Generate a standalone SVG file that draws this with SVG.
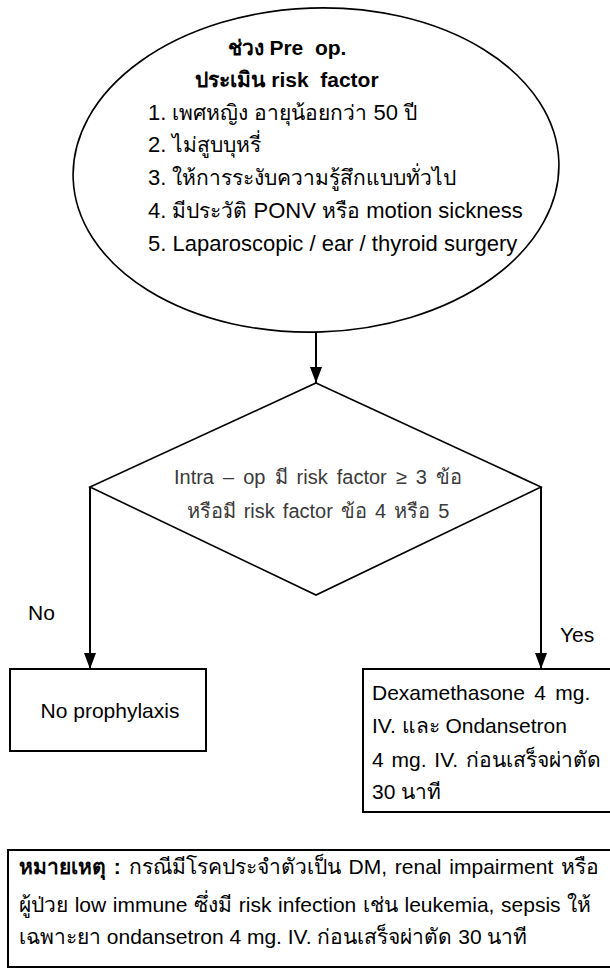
<svg xmlns="http://www.w3.org/2000/svg" width="610" height="969" viewBox="0 0 610 969">
<defs>
<marker id="arr" viewBox="0 0 16 12" refX="16" refY="6" markerWidth="16" markerHeight="12" markerUnits="userSpaceOnUse" orient="auto">
<path d="M0,0 L16,6 L0,12 Z" fill="#000"/>
</marker>
</defs>
<style>
.t{font-family:"Liberation Sans","Noto Sans",sans-serif;font-size:21px;fill:#000}
.i{font-size:22px}
.th{font-size:21px}
.b{font-weight:bold}
.d{font-family:"Liberation Sans","Noto Sans",sans-serif;font-size:20px;fill:#3a3a3a}
.s{fill:#fff;stroke:#000;stroke-width:1.6}
.r{fill:#fff;stroke:#000;stroke-width:2}
.c{fill:none;stroke:#000;stroke-width:2}
</style>
<rect width="610" height="969" fill="#fff"/>
<g id="connectors">
<line class="c" x1="316" y1="332" x2="316" y2="383" marker-end="url(#arr)"/>
<polyline class="c" points="90,487 90,669" marker-end="url(#arr)"/>
<polyline class="c" points="541,487 541,669" marker-end="url(#arr)"/>
<text class="t" x="28" y="620">No</text>
<text class="t" x="560" y="642">Yes</text>
</g>
<g id="preop">
<ellipse class="s" cx="316" cy="170" rx="243" ry="162" transform="rotate(-2 316 170)"/>
<text class="t b" x="287" y="55" text-anchor="middle" xml:space="preserve">ช่วง Pre  op.</text>
<text class="t b" x="287" y="87" text-anchor="middle" xml:space="preserve">ประเมิน risk  factor</text>
<text class="t i" x="148" y="120">1. <tspan class="th">เพศหญิง อายุน้อยกว่า</tspan> 50 <tspan class="th">ปี</tspan></text>
<text class="t i" x="148" y="152">2. <tspan class="th">ไม่สูบบุหรี่</tspan></text>
<text class="t i" x="148" y="185">3. <tspan class="th">ให้การระงับความรู้สึกแบบทั่วไป</tspan></text>
<text class="t i" x="148" y="218">4. <tspan class="th">มีประวัติ</tspan> PONV <tspan class="th">หรือ</tspan> motion sickness</text>
<text class="t i" x="148" y="251">5. Laparoscopic / ear / thyroid surgery</text>
</g>
<g id="decision">
<polygon class="s" points="316,383 541,487 316,595 90,487"/>
<text class="d" x="318" y="484" text-anchor="middle" word-spacing="3.5">Intra – op มี risk factor ≥ 3 ข้อ</text>
<text class="d" x="318" y="518" text-anchor="middle" word-spacing="2.5">หรือมี risk factor ข้อ 4 หรือ 5</text>
</g>
<g id="no-prophylaxis">
<rect class="r" x="10" y="669" width="196" height="82"/>
<text class="t" x="110" y="718" text-anchor="middle">No prophylaxis</text>
</g>
<g id="yes-treatment">
<rect class="r" x="363" y="669" width="252" height="143"/>
<text class="t" x="372" y="700" word-spacing="3.5">Dexamethasone 4 mg.</text>
<text class="t" x="372" y="733">IV. และ Ondansetron</text>
<text class="t" x="372" y="767" word-spacing="2">4 mg. IV. ก่อนเสร็จผ่าตัด</text>
<text class="t" x="372" y="799">30 นาที</text>
</g>
<g id="note">
<rect class="r" x="8" y="850" width="610" height="117"/>
<text class="t" x="19" y="874" word-spacing="2"><tspan class="b">หมายเหตุ :</tspan> กรณีมีโรคประจำตัวเป็น DM, renal impairment หรือ</text>
<text class="t" x="19" y="912" word-spacing="0.8">ผู้ป่วย low immune ซึ่งมี risk infection เช่น leukemia, sepsis ให้</text>
<text class="t" x="19" y="944">เฉพาะยา ondansetron 4 mg. IV. ก่อนเสร็จผ่าตัด 30 นาที</text>
</g>
</svg>
